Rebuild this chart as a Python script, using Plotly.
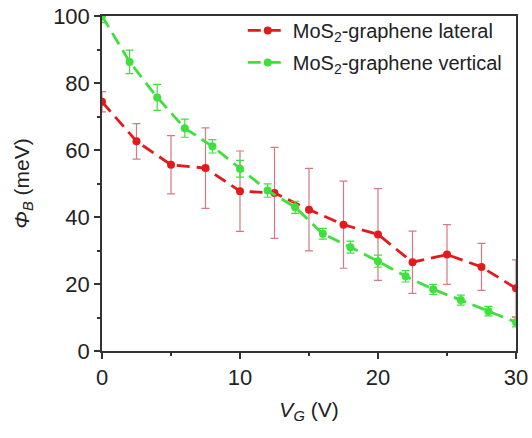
import plotly.graph_objects as go

# Lateral (red) series
vg_lateral = [0, 2.5, 5, 7.5, 10, 12.5, 15, 17.5, 20, 22.5, 25, 27.5, 30]
phi_lateral = [74.4, 62.6, 55.6, 54.6, 47.7, 47.2, 42.2, 37.7, 34.8, 26.5, 28.8, 25.1, 18.7]
err_lateral = [3.0, 5.3, 8.7, 12.0, 12.0, 13.6, 12.3, 13.0, 13.7, 9.3, 8.9, 7.0, 8.5]

# Vertical (green) series
vg_vertical = [0, 2, 4, 6, 8, 10, 12, 14, 16, 18, 20, 22, 24, 26, 28, 30]
phi_vertical = [100.0, 86.3, 75.7, 66.5, 61.1, 54.4, 47.9, 42.9, 35.0, 31.0, 26.8, 22.3, 18.4, 15.2, 11.9, 8.6]
err_vertical = [2.0, 3.5, 3.9, 2.7, 2.0, 2.5, 2.0, 1.8, 1.6, 1.8, 1.8, 1.7, 1.5, 1.5, 1.4, 1.4]

x_ticks = [0, 10, 20, 30]
y_ticks = [0, 20, 40, 60, 80, 100]

FONT = "Arial, Liberation Sans, sans-serif"

fig = go.Figure()
fig.add_trace(go.Scatter(
    x=vg_lateral, y=phi_lateral, mode="lines+markers",
    name="MoS<sub>2</sub>-graphene lateral", legendgroup="a",
    line=dict(color="#e31a1c", width=2.8, dash="13px,7px"),
    marker=dict(color="#e31a1c", size=8),
    error_y=dict(type="data", array=err_lateral, color="#d67a82", thickness=1.2, width=4),
))
fig.add_trace(go.Scatter(
    x=vg_vertical, y=phi_vertical, mode="lines+markers",
    name="MoS<sub>2</sub>-graphene vertical", legendgroup="b",
    line=dict(color="#3ee03e", width=2.8, dash="13px,7px"),
    marker=dict(color="#3ee03e", size=8),
    error_y=dict(type="data", array=err_vertical, color="#3ee03e", thickness=1.2, width=4),
))

axis_common = dict(
    showline=True, linecolor="#333333", linewidth=1.5, mirror=True,
    showgrid=False, zeroline=False, automargin=False,
    ticks="outside", ticklen=6, tickwidth=1.5, tickcolor="#333333",
    tickfont=dict(family=FONT, size=22, color="#222222"),
)

fig.update_xaxes(
    range=[0, 30], tickvals=x_ticks, ticktext=[str(v) for v in x_ticks],
    minor=dict(ticks="outside", ticklen=3, tickwidth=1.5, tickcolor="#333333", dtick=5, showgrid=False),
    title=dict(text="<i>V</i><sub><i>G</i></sub> (V)", font=dict(family=FONT, size=21, color="#222222"), standoff=13),
    **axis_common,
)
fig.update_yaxes(
    range=[0, 100], tickvals=y_ticks, ticktext=[str(v) for v in y_ticks],
    minor=dict(ticks="outside", ticklen=3, tickwidth=1.5, tickcolor="#333333", dtick=10, showgrid=False),
    title=dict(text="<i>Φ</i><sub><i>B</i></sub> (meV)", font=dict(family=FONT, size=21, color="#222222"), standoff=18),
    **axis_common,
)

fig.update_layout(
    width=532, height=438,
    margin=dict(l=102, r=16, t=15, b=87),
    paper_bgcolor="white", plot_bgcolor="white",
    showlegend=True,
    legend=dict(
        x=0.34, y=1.012, xanchor="left", yanchor="top",
        bgcolor="rgba(0,0,0,0)", borderwidth=0,
        font=dict(family=FONT, size=20, color="#222222"),
        itemwidth=40, tracegroupgap=3,
    ),
)

fig.write_html(
    "out.html",
    config={"displayModeBar": False},
    post_script="document.body.style.margin='0';document.body.style.overflow='hidden';",
)
